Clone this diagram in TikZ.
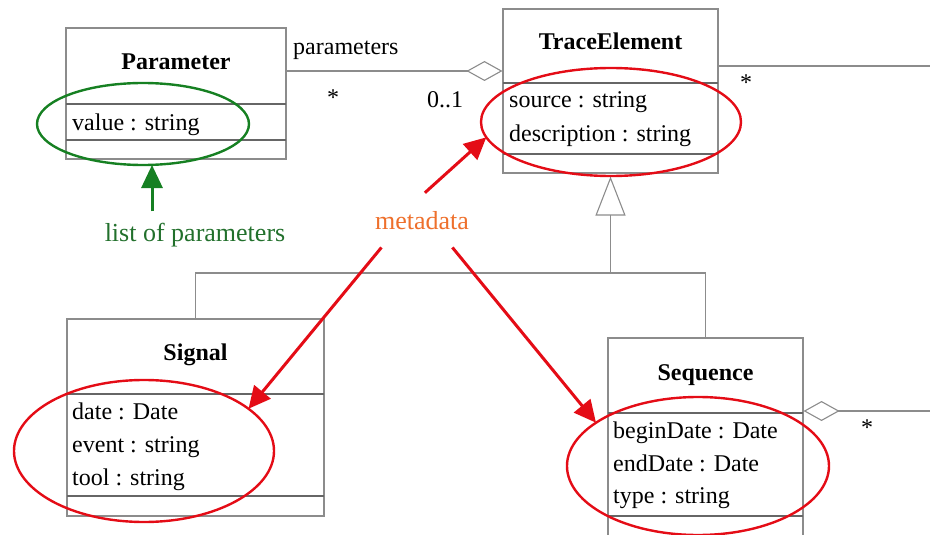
\documentclass[tikz,border=0pt]{standalone}
\usepackage{fontspec}
\setmainfont{Liberation Serif}
\usetikzlibrary{arrows.meta, shapes.geometric}
\definecolor{umlgray}{RGB}{140,140,140}
\definecolor{markred}{RGB}{228,12,22}
\definecolor{markgreen}{RGB}{22,128,34}
\definecolor{textgreen}{RGB}{34,112,44}
\definecolor{metaorange}{RGB}{238,112,44}

\begin{document}
\begin{tikzpicture}[x=1pt, y=-1pt,
    box/.style={draw=umlgray, line width=1.1pt, inner sep=0pt},
    cmp/.style={draw=black!60, line width=1.1pt},
    link/.style={draw=black!45, line width=1.1pt},
    clsname/.style={font=\fontsize{24}{28}\selectfont\bfseries, anchor=base, inner sep=0pt},
    attrib/.style={font=\fontsize{24}{28}\selectfont, anchor=base west, inner sep=0pt},
    mult/.style={font=\fontsize{24}{28}\selectfont, inner sep=0pt},
    ring/.style={ellipse, line width=2.4pt, inner sep=0pt, outer sep=0pt},
    remark/.style={font=\fontsize{26}{30}\selectfont, anchor=base}]
      \useasboundingbox (0,0) rectangle (930,535);
      \clip (0,0) rectangle (930,535);

      \node[box, minimum width=220pt, minimum height=131pt] (par) at (176,93.5) {};
      \node[box, minimum width=215pt, minimum height=164pt] (trc) at (610.5,91) {};
      \node[box, minimum width=257pt, minimum height=197pt] (sig) at (195.5,417.5) {};
      \node[box, minimum width=195pt, minimum height=198pt] (seq) at (705.5,437) {};
      \foreach \xa/\xb/\yy in {66/286/104, 66/286/140, 503/718/83, 503/718/154,
                               67/324/394, 67/324/496, 608/803/413, 608/803/516}
        \draw[cmp] (\xa,\yy) -- (\xb,\yy);

      \node[clsname] (parname) at (176,70) {Parameter};
      \node[clsname] (trcname) at (610.5,50) {TraceElement};
      \node[clsname] (signame) at (195.5,360) {Signal};
      \node[clsname] (seqname) at (705.5,380) {Sequence};

      \node[attrib] (pval) at (72,130) {value : string};
      \node[attrib] (tsrc) at (509,108) {source : string};
      \node[attrib] (tdsc) at (509,142) {description : string};
      \node[attrib] (sdat) at (72,419) {date : Date};
      \node[attrib] (sevt) at (72,452) {event : string};
      \node[attrib] (stol) at (72,485) {tool : string};
      \node[attrib] (qbeg) at (613,438) {beginDate : Date};
      \node[attrib] (qend) at (613,471) {endDate : Date};
      \node[attrib] (qtyp) at (613,503) {type : string};

      \coordinate (fork) at (610.5,273);
      \coordinate (east1) at (930,66);
      \coordinate (east2) at (930,411);
      \draw[link] (sig.north) |- (fork) -| (seq.north);
      \draw[link, -{Triangle[open, width=30pt, length=39pt]}] (fork) -- ([yshift=-3pt]trc.south);
      \draw[link, -{Diamond[open, width=20pt, length=36pt]}] ([yshift=22.5pt]par.east) -- ([yshift=20pt]trc.west);
      \draw[link] ([yshift=25pt]trc.east) -- (east1);
      \draw[link, -{Diamond[open, width=20pt, length=36pt]}] (east2) -- ([yshift=26pt]seq.east);

      \node[mult, anchor=base west] (plab) at (293,55) {parameters};
      \node[mult] (pmany) at (333,98) {*};
      \node[mult, anchor=base west] (pone) at (427,108) {0..1};
      \node[mult] (tmany) at (746,83) {*};
      \node[mult] (qmany) at (867,428) {*};

      \node[ring, draw=markgreen, minimum width=212pt, minimum height=82pt] (pring) at (143,124) {};
      \node[ring, draw=markred, minimum width=260pt, minimum height=108pt] (tring) at (611,122) {};
      \node[ring, draw=markred, minimum width=260pt, minimum height=142pt] (sring) at (144,451) {};
      \node[ring, draw=markred, minimum width=262pt, minimum height=138pt] (qring) at (698,466) {};

      \node[remark, text=textgreen, inner sep=0pt] (plist) at (195,241) {list of parameters};
      \node[remark, text=metaorange, inner xsep=0pt, inner ysep=18pt] (meta) at (422,229) {metadata};

      \draw[markgreen, line width=3pt, -{Triangle[width=21pt, length=23pt]}] ([xshift=-43pt, yshift=11pt]plist.north) -- ([xshift=9pt]pring.south);
      \draw[markred, line width=3pt, -{Triangle[width=21pt, length=22pt]}] (meta.84) -- (tring.187);
      \draw[markred, line width=3pt, -{Triangle[width=21pt, length=22pt]}] (meta.214) -- (sring.22);
      \draw[markred, line width=3pt, -{Triangle[width=21pt, length=22pt]}] (meta.318) -- (qring.157);
\end{tikzpicture}
\end{document}
